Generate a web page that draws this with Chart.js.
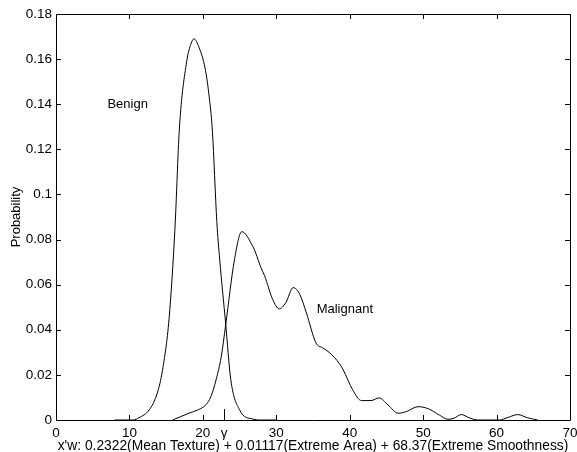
<!DOCTYPE html>
<html>
<head>
<meta charset="utf-8">
<script src="https://cdn.jsdelivr.net/npm/chart.js@4"></script>
<style>
  html, body { margin: 0; padding: 0; background: #fff; }
</style>
</head>
<body>
<canvas id="kde" width="577" height="452"></canvas>
<script>
// density estimates
const benignX = [8, 10.5, 11.3, 12.7, 13.8, 14.5, 15.4, 16.2, 16.8, 17.8, 18.3, 18.8, 19.5, 20.3, 20.8, 21.3, 21.9, 22.3, 23.1, 23.8, 25.0, 26.8, 28, 30];
const benignY = [0, 0, 0.001, 0.0045, 0.012, 0.022, 0.045, 0.085, 0.129, 0.159, 0.166, 0.169, 0.165, 0.156, 0.145, 0.128, 0.088, 0.071, 0.043, 0.018, 0.0045, 0.0004, 0, 0];

const malignantX = [15.9, 18.1, 19.05, 20.4, 21.1, 21.8, 22.5, 23.1, 24.3, 25.3, 26.8, 27.2, 27.9, 28.4, 29.5, 30.4, 31.3, 32.3, 33.2, 34.1, 35.4, 36.3, 37.2, 38.6, 39.1, 40.4, 41.6, 42.9, 44.0, 45.2, 46.6, 47.7, 49.3, 50.7, 52.2, 53.4, 54.2, 55.2, 56.4, 57.5, 60.4, 61.6, 62.9, 64.2, 65.6];
const malignantY = [0, 0.003, 0.0041, 0.0067, 0.0104, 0.0178, 0.028, 0.042, 0.071, 0.0835, 0.077, 0.074, 0.0676, 0.064, 0.0535, 0.0493, 0.052, 0.0587, 0.0557, 0.0475, 0.0342, 0.032, 0.030, 0.025, 0.0223, 0.0134, 0.0086, 0.0086, 0.0098, 0.0067, 0.003, 0.0037, 0.0059, 0.005, 0.0022, 0.0003, 0.0008, 0.0024, 0.0008, 0, 0, 0.0012, 0.0024, 0.001, 0];

const xTicks = [0, 10, 20, 30, 40, 50, 60, 70];
const yTicks = [0, 0.02, 0.04, 0.06, 0.08, 0.1, 0.12, 0.14, 0.16, 0.18];
const gammaX = 22.9; // decision threshold

const curveNames = ['Benign', 'Malignant'];
const nameX = [7, 35.5];
const nameY = [0.14, 0.049];

const FAMILY = "'Liberation Sans', Arial, Helvetica, sans-serif";
const TICK_FONT = { family: FAMILY, size: 13.5 };
const TEXT_SIZE = 13;

function pts(xs, ys) {
  return xs.map((x, i) => ({ x: x, y: ys[i] }));
}

// box + inward ticks (matlab look), curve names
const boxPlugin = {
  id: 'box',
  afterDraw(chart) {
    const { ctx, chartArea: a, scales: { x, y } } = chart;
    ctx.save();
    ctx.strokeStyle = '#000';
    ctx.lineWidth = 1;
    ctx.beginPath();
    ctx.rect(a.left + 0.5, a.top + 0.5, a.right - a.left, a.bottom - a.top);
    xTicks.forEach(v => {
      const px = Math.round(x.getPixelForValue(v)) + 0.5;
      ctx.moveTo(px, a.bottom); ctx.lineTo(px, a.bottom - 5);
      ctx.moveTo(px, a.top); ctx.lineTo(px, a.top + 5);
    });
    yTicks.forEach(v => {
      const py = Math.round(y.getPixelForValue(v)) + 0.5;
      ctx.moveTo(a.left, py); ctx.lineTo(a.left + 5, py);
      ctx.moveTo(a.right, py); ctx.lineTo(a.right - 5, py);
    });
    const gx = Math.round(x.getPixelForValue(gammaX)) + 0.5;
    ctx.moveTo(gx, a.bottom); ctx.lineTo(gx, a.bottom - 11);
    ctx.stroke();

    ctx.fillStyle = '#000';
    ctx.font = TEXT_SIZE + 'px ' + FAMILY;
    ctx.textAlign = 'left';
    ctx.textBaseline = 'middle';
    curveNames.forEach((n, i) => {
      ctx.fillText(n, x.getPixelForValue(nameX[i]), y.getPixelForValue(nameY[i]));
    });
    ctx.restore();
  }
};

new Chart(document.getElementById('kde'), {
  type: 'line',
  data: {
    datasets: [
      { label: curveNames[0], data: pts(benignX, benignY) },
      { label: curveNames[1], data: pts(malignantX, malignantY) }
    ]
  },
  options: {
    responsive: false,
    animation: false,
    layout: { padding: { top: 14, right: 7, left: 0, bottom: 0 } },
    elements: {
      line: { borderColor: '#000', borderWidth: 1, cubicInterpolationMode: 'monotone', fill: false },
      point: { radius: 0 }
    },
    plugins: { legend: { display: false }, tooltip: { enabled: false } },
    scales: {
      x: {
        type: 'linear',
        min: 0, max: 70,
        grid: { display: false, drawTicks: false },
        border: { display: false },
        afterBuildTicks: s => {
          s.ticks = xTicks.concat([gammaX]).sort((a, b) => a - b).map(v => ({ value: v }));
        },
        afterFit: s => { s.height = 32; s.paddingLeft = 0; s.paddingRight = 0; },
        ticks: {
          autoSkip: false, maxRotation: 0, padding: 5, color: '#000', font: TICK_FONT,
          callback: v => (v === gammaX ? 'γ' : String(v))
        },
        title: {
          display: true, color: '#000', font: { family: FAMILY, size: 13.8, lineHeight: '12px' },
          padding: { top: 0, bottom: 0 },
          text: "x'w: 0.2322(Mean Texture) + 0.01117(Extreme Area) + 68.37(Extreme Smoothness)"
        }
      },
      y: {
        min: 0, max: 0.18,
        grid: { display: false, drawTicks: false },
        border: { display: false },
        afterBuildTicks: s => { s.ticks = yTicks.map(v => ({ value: v })); },
        afterFit: s => { s.width = 56; s.paddingTop = 0; s.paddingBottom = 0; },
        ticks: {
          autoSkip: false, padding: 4, color: '#000', font: TICK_FONT,
          callback: v => String(Number(v.toFixed(2)))
        },
        title: { display: true, text: 'Probability', color: '#000', font: { family: FAMILY, size: TEXT_SIZE }, padding: { top: 9, bottom: 0 } }
      }
    }
  },
  plugins: [boxPlugin]
});
</script>
</body>
</html>
